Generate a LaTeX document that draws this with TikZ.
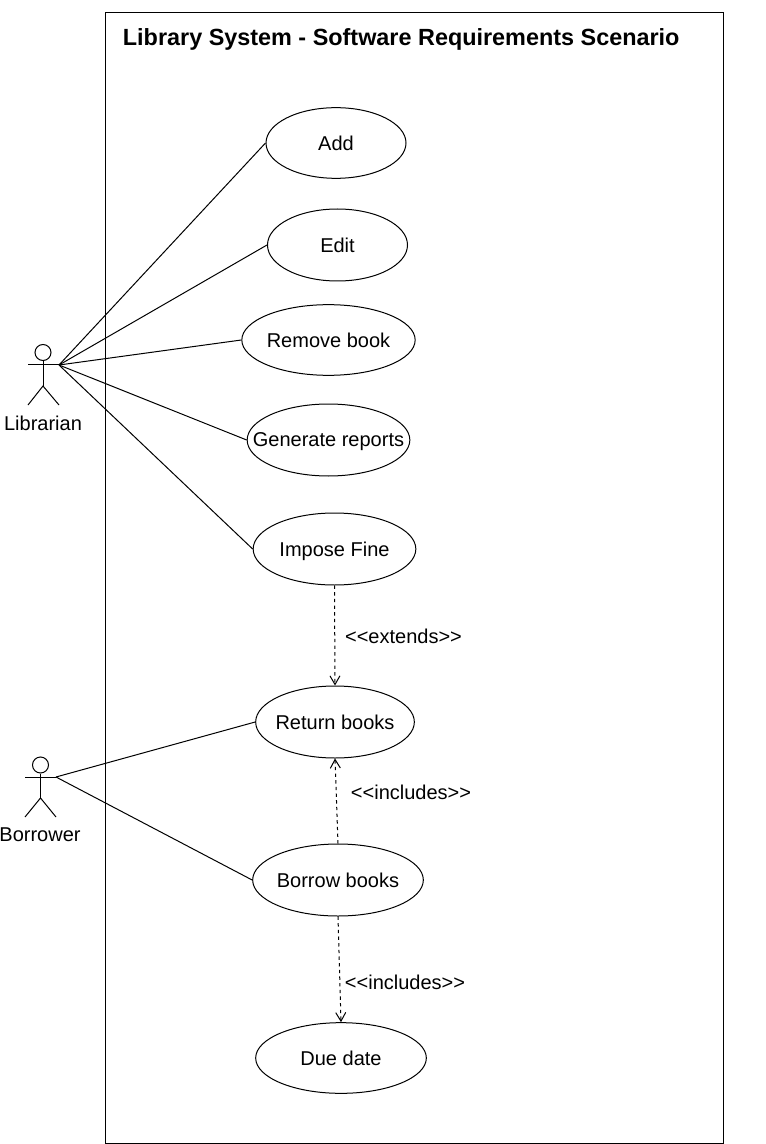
\documentclass[tikz,border=0pt]{standalone}
\usepackage{fontspec}
\setmainfont{Liberation Sans}
\usetikzlibrary{shapes.geometric,arrows.meta}
\newcommand{\openguil}{<\kern0pt<}
\newcommand{\closeguil}{>\kern0pt>}
\tikzset{
  usecase/.style={draw,ellipse,inner xsep=-40pt,inner ysep=-10pt,text depth=0pt},
  actorhead/.style={draw,circle,minimum size=12pt,inner sep=0pt},
  stereotype/.style={dashed,dash pattern=on 2.5pt off 2.5pt,-{Straight Barb[length=6.5pt,width=7.5pt]}},
}
\begin{document}
\begin{tikzpicture}[x=0.75pt,y=-0.75pt,line width=0.75pt,every node/.style={font=\fontsize{15}{18}\selectfont}]
\useasboundingbox (0,0) rectangle (766,1144);

\draw(105.5,12.5) rectangle (723,1143);
\node[anchor=west,text depth=0pt,font=\bfseries\fontsize{17.55}{21}\selectfont] (title) at (118,37) {Library System - Software Requirements Scenario};

\node[usecase,minimum width=105pt,minimum height=53pt] (add) at (336,143) {Add};
\node[usecase,minimum width=105pt,minimum height=54pt] (edit) at (337.5,245) {Edit};
\node[usecase,minimum width=130pt,minimum height=53pt] (removebook) at (328.5,340) {Remove book};
\node[usecase,minimum width=122pt,minimum height=54pt] (reports) at (328.5,440) {Generate reports};
\node[usecase,minimum width=122pt,minimum height=54pt] (fine) at (334.5,549) {Impose Fine};
\node[usecase,minimum width=119pt,minimum height=54pt] (returnbooks) at (335,722) {Return books};
\node[usecase,minimum width=128pt,minimum height=54pt] (borrowbooks) at (338,880) {Borrow books};
\node[usecase,minimum width=128pt,minimum height=53pt] (duedate) at (341,1058) {Due date};

% librarian
\node[actorhead] (librarianhead) at (43,352.5) {};
\coordinate (librarianleft) at (28,365);
\coordinate (librarianhand) at (59,365);
\coordinate (librarianhip) at (43,386);
\coordinate (librarianfootl) at (28,405);
\coordinate (librarianfootr) at (59,405);
\draw(librarianhead)--(librarianhip);
\draw(librarianleft)--(librarianhand);
\draw(librarianfootl)--(librarianhip)--(librarianfootr);
\node (librarian) at (43,423) {Librarian};

% borrower
\node[actorhead] (borrowerhead) at (40.5,765) {};
\coordinate (borrowerleft) at (25,777);
\coordinate (borrowerhand) at (56,777);
\coordinate (borrowerhip) at (40.5,798);
\coordinate (borrowerfootl) at (25,817);
\coordinate (borrowerfootr) at (56,817);
\draw(borrowerhead)--(borrowerhip);
\draw(borrowerleft)--(borrowerhand);
\draw(borrowerfootl)--(borrowerhip)--(borrowerfootr);
\node (borrower) at (40,835) {Borrower};

\foreach \target in {add,edit,removebook,reports,fine}
  \draw(librarianhand)--(\target.west);
\foreach \target in {returnbooks,borrowbooks}
  \draw(borrowerhand)--(\target.west);

\draw[stereotype](fine.south)--(returnbooks.north);
\draw[stereotype](borrowbooks.north)--(returnbooks.south);
\draw[stereotype](borrowbooks.south)--(duedate.north);

\node (extends) at (403.5,636) {\openguil extends\closeguil};
\node (includesreturn) at (411,792) {\openguil includes\closeguil};
\node (includesdue) at (405,982) {\openguil includes\closeguil};

\end{tikzpicture}
\end{document}
